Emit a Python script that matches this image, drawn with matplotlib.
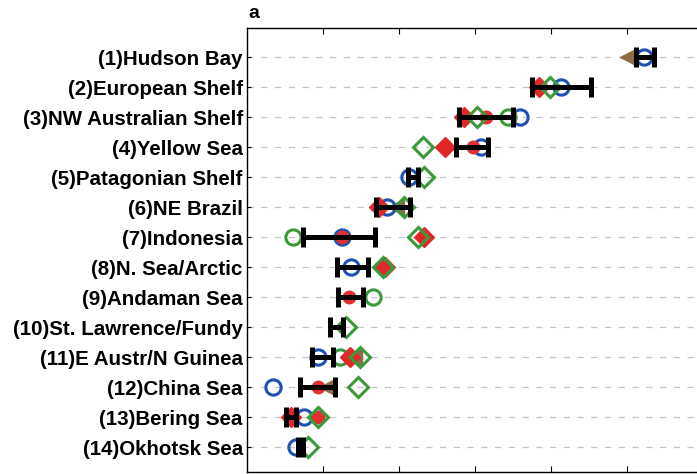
import numpy as np
import matplotlib
matplotlib.use("Agg")
import matplotlib.pyplot as plt

plt.rcParams["font.family"] = ["Liberation Sans", "DejaVu Sans"]

nan = np.nan

regions = [
    "(1)Hudson Bay", "(2)European Shelf", "(3)NW Australian Shelf",
    "(4)Yellow Sea", "(5)Patagonian Shelf", "(6)NE Brazil",
    "(7)Indonesia", "(8)N. Sea/Arctic", "(9)Andaman Sea",
    "(10)St. Lawrence/Fundy", "(11)E Austr/N Guinea", "(12)China Sea",
    "(13)Bering Sea", "(14)Okhotsk Sea",
]

# range of the black bars
err_lo = [5.12, 3.75, 2.79, 2.75, 2.12, 1.70, 0.74, 1.18, 1.20, 1.09, 0.86, 0.70, 0.51, 0.67]
err_hi = [5.36, 4.53, 3.50, 3.17, 2.25, 2.15, 1.68, 1.59, 1.53, 1.26, 1.13, 1.16, 0.64, 0.74]

# individual estimates
blue_circle = [5.22, 4.13, 3.59, 3.08, 2.13, 1.84, 1.25, 1.37, nan, nan, 0.93, 0.34, 0.75, 0.64]
green_circle = [nan, nan, 3.43, nan, nan, nan, 0.61, nan, 1.66, nan, 1.22, nan, nan, nan]
green_diamond = [nan, 3.99, 3.03, 2.32, 2.33, 2.07, 2.25, 1.79, nan, 1.30, 1.49, 1.46, 0.93, 0.80]
red_diamond = [nan, 3.84, 2.86, 2.61, nan, 1.74, 2.33, 1.81, nan, nan, 1.35, nan, 0.58, nan]
red_circle = [nan, nan, 3.14, 2.97, nan, nan, 1.25, 1.81, 1.34, nan, nan, 0.93, 0.93, nan]
brown_tri = [5.01, nan, nan, nan, nan, 1.96, nan, nan, nan, nan, 1.41, 1.05, nan, nan]

rows = np.arange(1, len(regions) + 1)

fig = plt.figure(figsize=(6.97, 4.74), dpi=100)
ax = fig.add_axes([247 / 697, 2 / 474, 455 / 697, 444 / 474])

for r in rows:
    ax.axhline(r, color="#c4c4c4", lw=0.9, ls=(0, (5, 6)), zorder=0)

ax.plot(brown_tri, rows, "<", color="#8a6d42", ms=11, zorder=3)
ax.plot(blue_circle, rows, "o", mfc="none", mec="#2050b0", mew=2.2, ms=11, zorder=3)
ax.plot(green_circle, rows, "o", mfc="none", mec="#3a9a3a", mew=2.2, ms=11, zorder=3)
ax.plot(red_circle, rows, "o", color="#e03030", ms=9, zorder=3)
ax.plot(red_diamond, rows, "D", color="#e02828", ms=10, zorder=3)
ax.plot(green_diamond, rows, "D", mfc="none", mec="#3a9a3a", mew=2.2, ms=10, zorder=4)

lo = np.array(err_lo)
hi = np.array(err_hi)
mid = (lo + hi) / 2
ax.errorbar(mid, rows, xerr=[mid - lo, hi - mid], fmt="none", ecolor="black",
            elinewidth=3.6, capsize=7, capthick=3.6, zorder=5)

ax.set_xlim(0, 455 / 76)
ax.set_ylim(14.83, 0.03)
ax.set_yticks(rows)
ax.set_yticklabels(regions, fontsize=14.8, fontweight="bold")
ax.set_xticks([1, 2, 3, 4, 5])
ax.set_xticklabels([])
ax.tick_params(direction="in", top=True, length=4, width=0.8, pad=3)
ax.tick_params(axis="y", length=3)
for s in ax.spines.values():
    s.set_linewidth(1.0)

fig.text(248 / 697, 1 - 13 / 474, "a", fontsize=14, fontweight="bold", va="center", ha="left")

fig.savefig("out.png", dpi=100)
